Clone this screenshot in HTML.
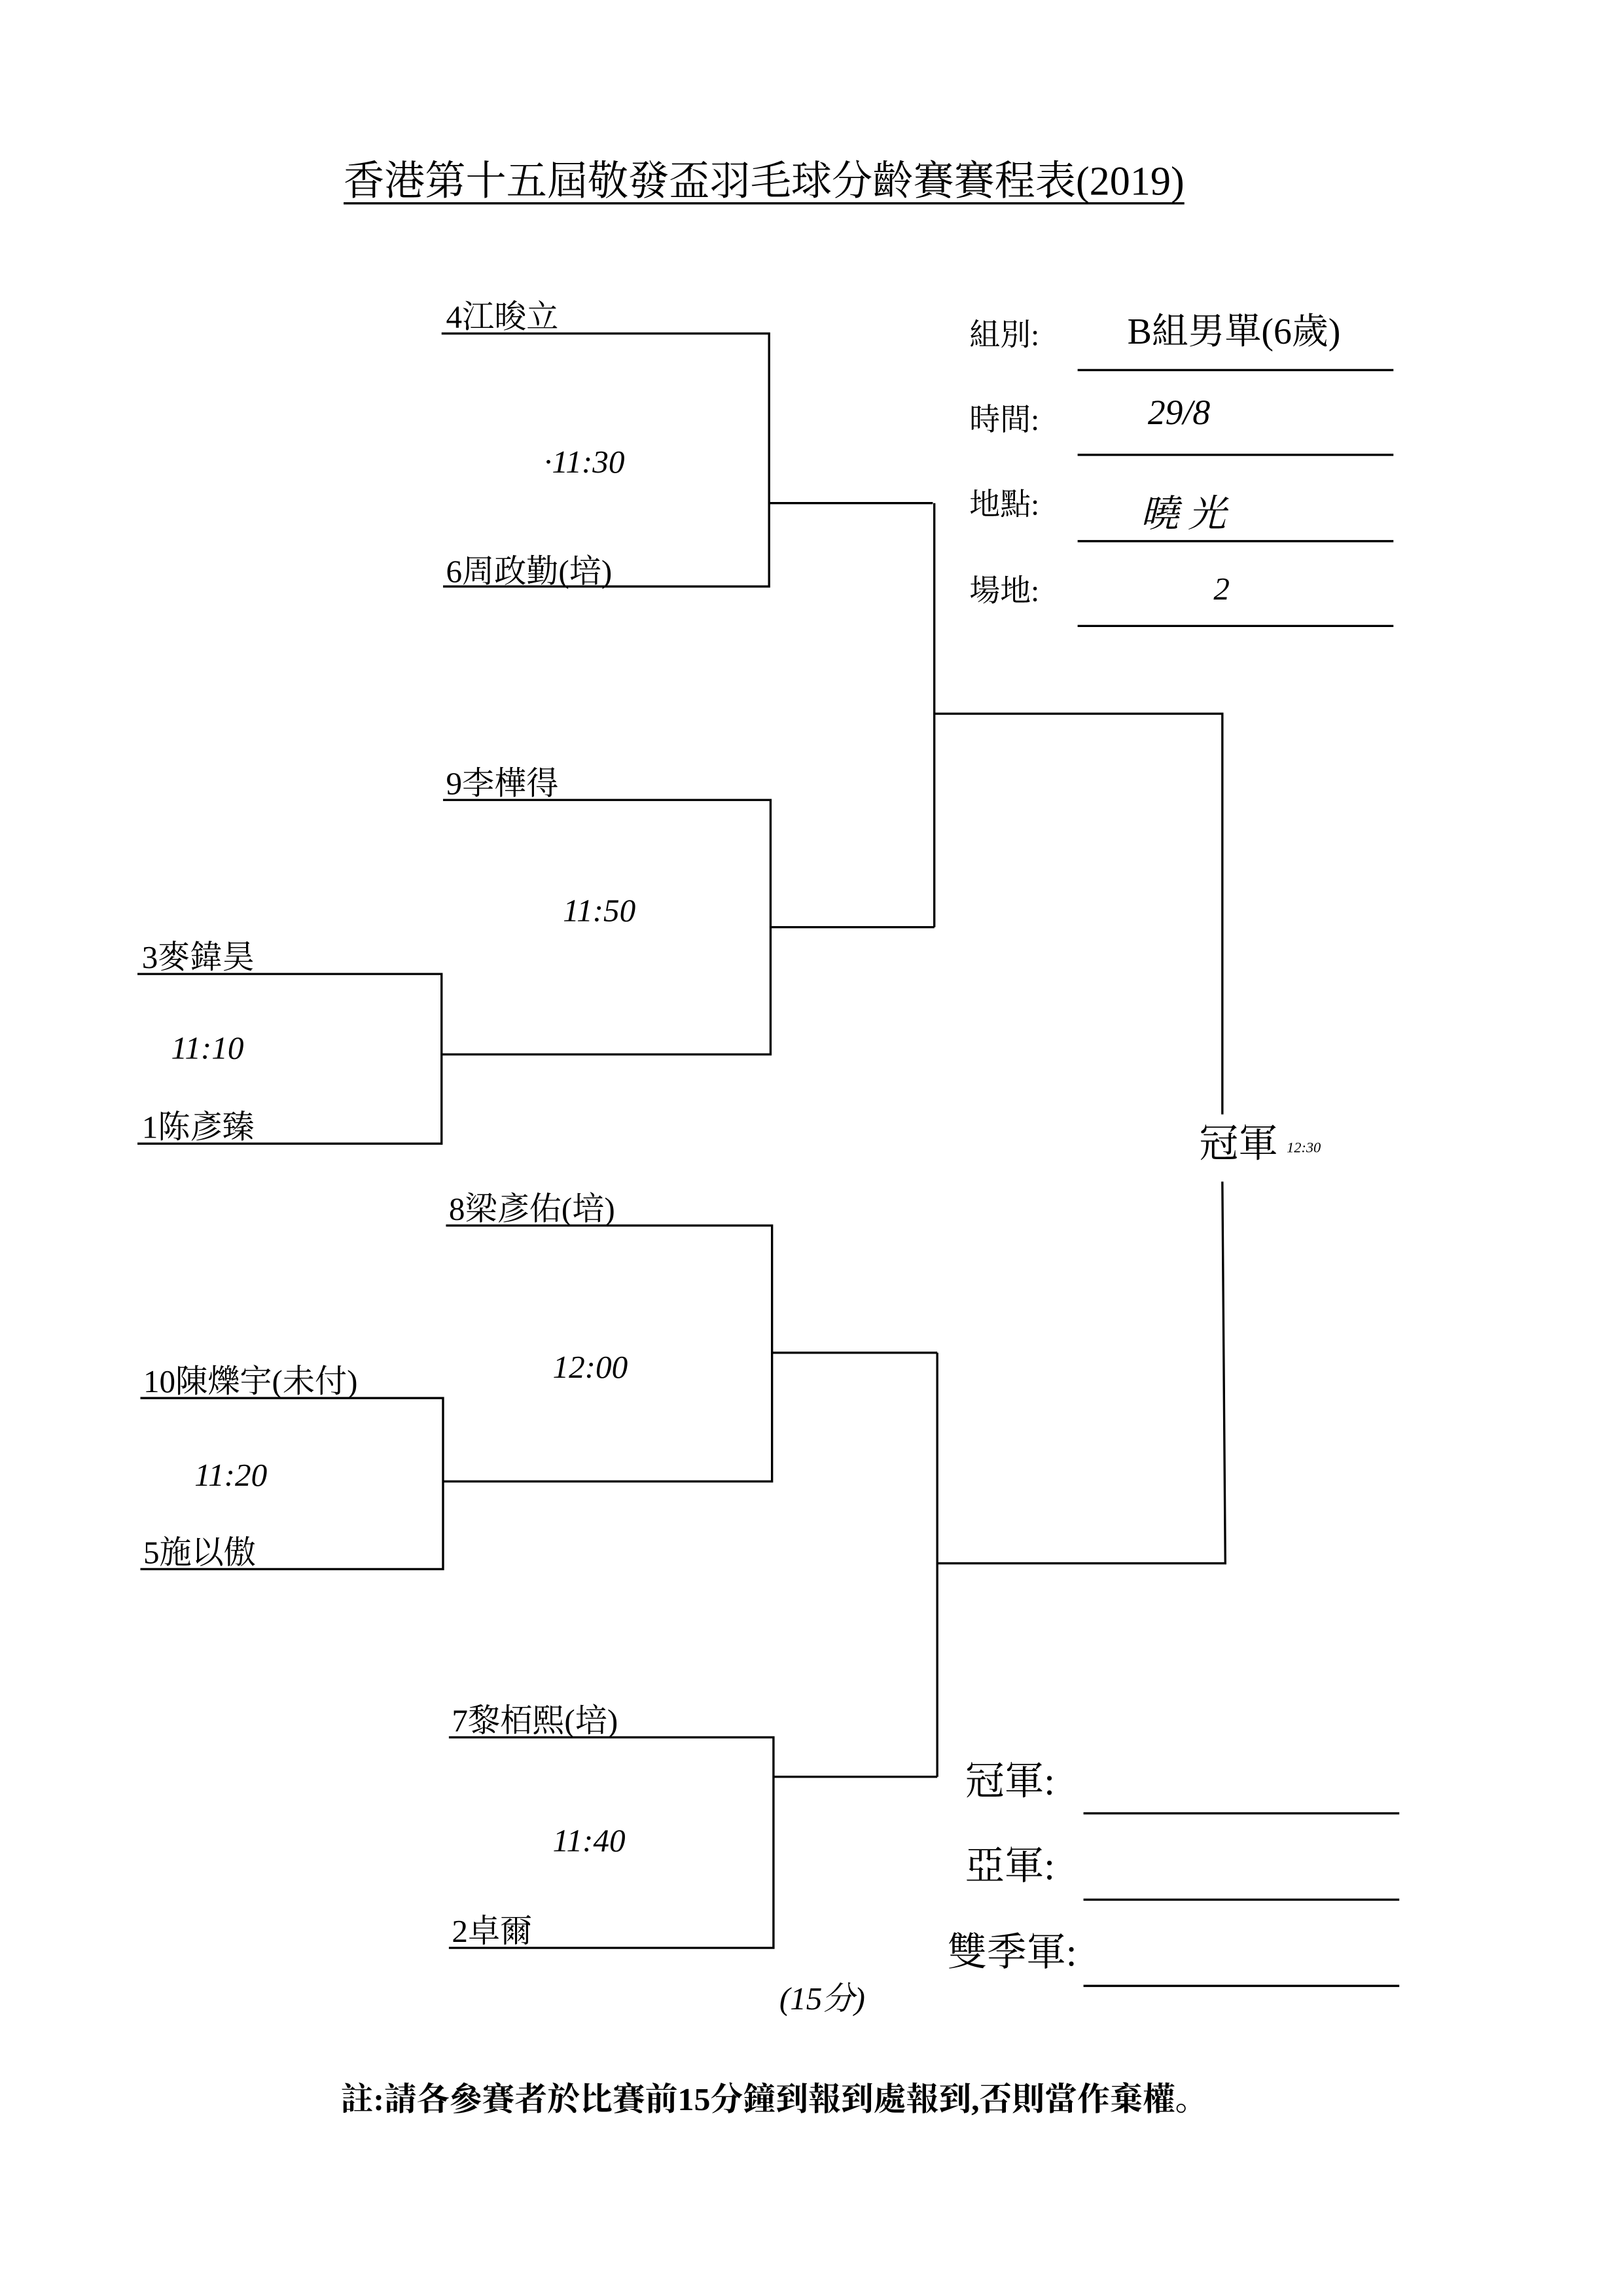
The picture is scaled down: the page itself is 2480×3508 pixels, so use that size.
<!DOCTYPE html>
<html><head><meta charset="utf-8"><style>
html,body{margin:0;padding:0;background:#fff;}
svg{display:block;}
text{font-family:"Liberation Serif","Noto Serif CJK SC","Noto Sans CJK TC",serif;fill:#000;}
.h{font-family:"Liberation Sans",sans-serif;font-style:italic;font-weight:normal;}
</style></head><body>
<svg width="2480" height="3508" viewBox="0 0 1110 1570" xmlns="http://www.w3.org/2000/svg">
<rect width="1110" height="1570" fill="#fff"/>
<text x="235" y="133" font-size="28" textLength="575" lengthAdjust="spacingAndGlyphs">香港第十五屆敬發盃羽毛球分齡賽賽程表(2019)</text>
<line x1="235" y1="139" x2="810" y2="139" stroke="#000" stroke-width="1.5"/>
<g stroke="#000" stroke-width="1.5" fill="none">
<polyline points="302,228 526,228 526,401 303,401"/>
<line x1="526" y1="344" x2="638" y2="344"/>
<polyline points="303,547 527,547 527,721 302,721"/>
<polyline points="94,666 302,666 302,782 94,782"/>
<line x1="527" y1="634" x2="639" y2="634"/>
<line x1="639" y1="344" x2="639" y2="634"/>
<polyline points="639,488 836,488 836,762"/>
<polyline points="836,808 838,1069 641,1069"/>
<polyline points="305,838 528,838 528,1013 303,1013"/>
<polyline points="96,956 303,956 303,1073 96,1073"/>
<line x1="528" y1="925" x2="641" y2="925"/>
<line x1="641" y1="925" x2="641" y2="1215"/>
<polyline points="307,1188 529,1188 529,1332 307,1332"/>
<line x1="529" y1="1215" x2="641" y2="1215"/>
<line x1="737" y1="253" x2="953" y2="253"/>
<line x1="737" y1="311" x2="953" y2="311"/>
<line x1="737" y1="370" x2="953" y2="370"/>
<line x1="737" y1="428" x2="953" y2="428"/>
<line x1="741" y1="1240" x2="957" y2="1240"/>
<line x1="741" y1="1299" x2="957" y2="1299"/>
<line x1="741" y1="1358" x2="957" y2="1358"/>
</g>
<g font-size="22">
<text x="305" y="224">4江晙立</text>
<text x="305" y="398">6周政勤(培)</text>
<text x="305" y="543">9李樺得</text>
<text x="97" y="662">3麥鍏昊</text>
<text x="97" y="778">1陈彥臻</text>
<text x="307" y="834">8梁彥佑(培)</text>
<text x="98" y="952">10陳爍宇(未付)</text>
<text x="98" y="1069">5施以傲</text>
<text x="309" y="1184">7黎栢熙(培)</text>
<text x="309" y="1328">2卓爾</text>
</g>
<g font-size="21">
<text x="663" y="236">組別:</text>
<text x="663" y="294">時間:</text>
<text x="663" y="352">地點:</text>
<text x="663" y="411">場地:</text>
</g>
<text x="771" y="235" font-size="25">B組男單(6歲)</text>
<g font-size="27">
<text x="820" y="791">冠軍</text>
<text x="660" y="1227">冠軍:</text>
<text x="660" y="1285">亞軍:</text>
<text x="648" y="1344">雙季軍:</text>
</g>
<g class="h" font-size="22">
<text x="372" y="323">·11:30</text>
<text x="385" y="630">11:50</text>
<text x="117" y="724">11:10</text>
<text x="378" y="942">12:00</text>
<text x="133" y="1016">11:20</text>
<text x="378" y="1266">11:40</text>
<text x="533" y="1374">(15分)</text>
<text x="785" y="290" font-size="24">29/8</text>
<text x="780" y="360" font-size="26">曉 光</text>
<text x="830" y="410">2</text>
<text x="880" y="788" font-size="10">12:30</text>
</g>
<text x="233" y="1443" font-size="22" font-weight="bold" textLength="593" lengthAdjust="spacingAndGlyphs">註:請各參賽者於比賽前15分鐘到報到處報到,否則當作棄權。</text>
</svg>
</body></html>
